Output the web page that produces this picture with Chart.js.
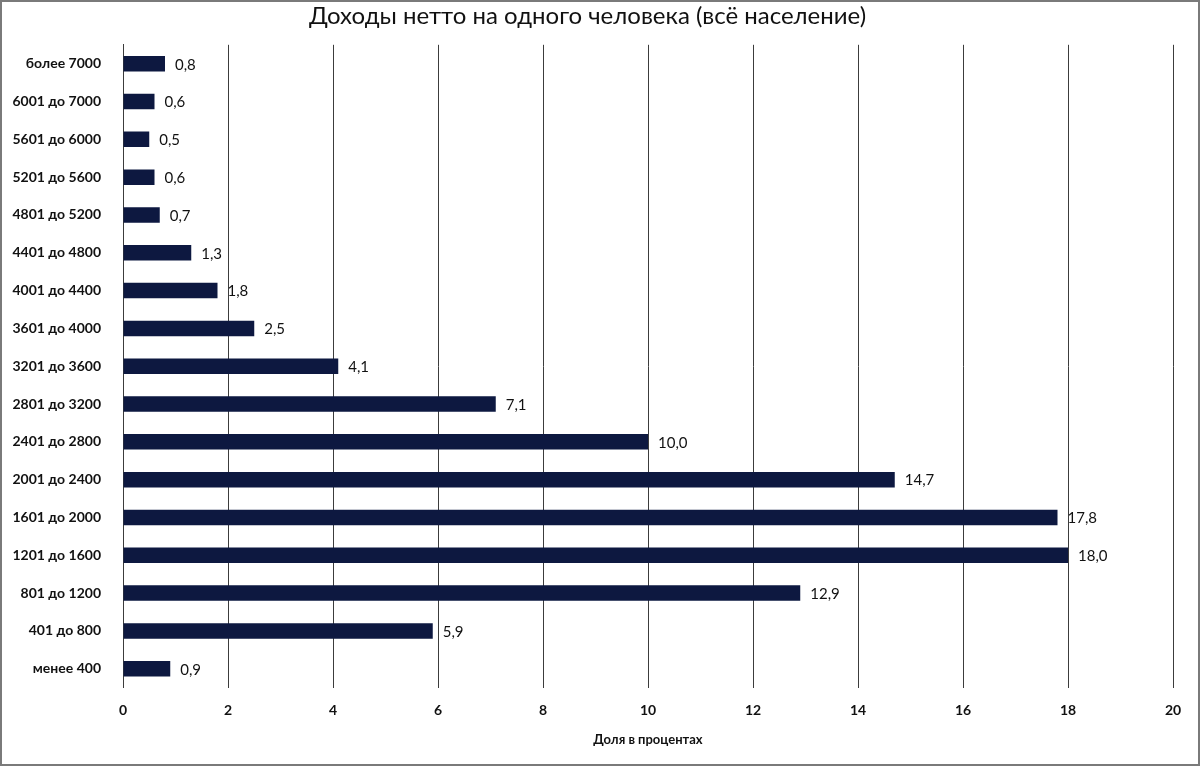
<!DOCTYPE html>
<html>
<head>
<meta charset="utf-8">
<script src="https://cdn.jsdelivr.net/npm/chart.js@4"></script>
<style>
  body { margin: 0; background: #fff; }
  #wrap { width: 1200px; height: 766px; box-sizing: border-box; border: 2px solid #7a7a7a; }
</style>
</head>
<body>
<div id="wrap"><canvas id="chart"></canvas></div>
<script>
const groups = [
  "более 7000", "6001 до 7000", "5601 до 6000", "5201 до 5600", "4801 до 5200",
  "4401 до 4800", "4001 до 4400", "3601 до 4000", "3201 до 3600", "2801 до 3200",
  "2401 до 2800", "2001 до 2400", "1601 до 2000", "1201 до 1600", "801 до 1200",
  "401 до 800", "менее 400"
];
const shares = [0.8, 0.6, 0.5, 0.6, 0.7, 1.3, 1.8, 2.5, 4.1, 7.1, 10.0, 14.7, 17.8, 18.0, 12.9, 5.9, 0.9];
const xTicks = [0, 2, 4, 6, 8, 10, 12, 14, 16, 18, 20];

// simple value labels at the bar ends, with a decimal comma
const valueLabels = {
  id: "valueLabels",
  afterDatasetsDraw(chart) {
    const ctx = chart.ctx;
    const meta = chart.getDatasetMeta(0);
    ctx.save();
    ctx.font = "15px Lato";
    ctx.fillStyle = "#111";
    ctx.textBaseline = "middle";
    meta.data.forEach((bar, i) => {
      ctx.fillText(shares[i].toFixed(1).replace(".", ","), bar.x + 10, bar.y + 1);
    });
    ctx.restore();
  }
};

new Chart(document.getElementById("chart"), {
  type: "bar",
  data: {
    labels: groups,
    datasets: [{
      data: shares,
      backgroundColor: "#0d1840",
      barPercentage: 0.41,
      categoryPercentage: 1
    }]
  },
  plugins: [valueLabels],
  options: {
    indexAxis: "y",
    responsive: true,
    maintainAspectRatio: false,
    animation: false,
    layout: { padding: { left: 0, right: 25, top: 0, bottom: 16 } },
    plugins: {
      legend: { display: false },
      tooltip: { enabled: false },
      title: {
        display: true,
        text: "Доходы нетто на одного человека (всё население)",
        color: "#111",
        font: { family: "Lato", size: 24, weight: "normal" },
        padding: { top: 0, bottom: 14 }
      }
    },
    scales: {
      x: {
        min: 0,
        max: 20,
        afterBuildTicks: (scale) => { scale.ticks = xTicks.map(v => ({ value: v })); },
        grid: { color: "#3c3c3c", lineWidth: 1, drawTicks: false },
        border: { display: false },
        ticks: { color: "#111", padding: 14, font: { family: "Lato", size: 14, weight: "bold" } },
        title: {
          display: true,
          text: "Доля в процентах",
          color: "#111",
          font: { family: "Lato", size: 13, weight: "bold" },
          padding: { top: 0, bottom: 0 }
        }
      },
      y: {
        grid: { display: false },
        border: { display: true, color: "#3c3c3c", width: 1 },
        afterFit: (scale) => { scale.width = 121; },
        ticks: { color: "#111", padding: 14, font: { family: "Lato", size: 14, weight: "bold" } }
      }
    }
  }
});
</script>
</body>
</html>
